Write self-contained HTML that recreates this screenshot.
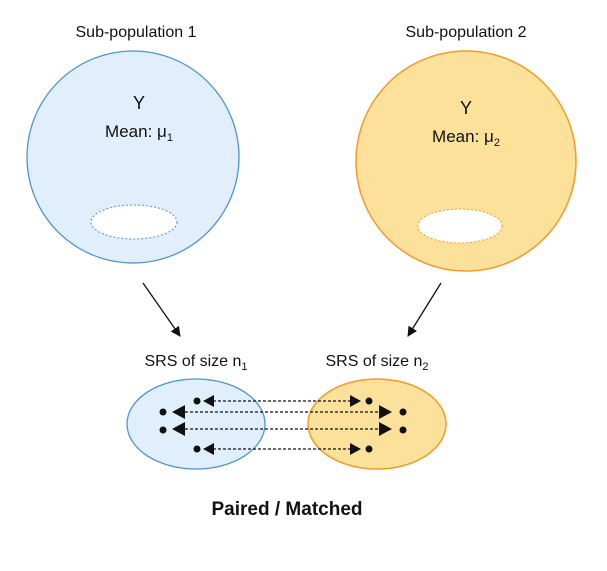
<!DOCTYPE html>
<html><head><meta charset="utf-8"><style>
body{margin:0;background:#fff;width:607px;height:566px;overflow:hidden}
text{font-family:"Liberation Sans","DejaVu Sans",sans-serif;fill:#111}
</style></head><body>
<svg width="607" height="566" viewBox="0 0 607 566">
<defs>
<marker id="ah" markerWidth="10" markerHeight="10" refX="9" refY="5" orient="auto" markerUnits="userSpaceOnUse"><path d="M0,0 L10,5 L0,10 z" fill="#111"/></marker>
</defs>
<text x="136" y="37" font-size="16" text-anchor="middle">Sub-population 1</text>
<text x="466" y="37" font-size="16" text-anchor="middle">Sub-population 2</text>
<circle cx="133" cy="157" r="106" fill="#e1eefb" stroke="#4d94cf" stroke-width="1.3"/>
<circle cx="466" cy="161" r="110" fill="#fbe199" stroke="#f39a2a" stroke-width="1.5"/>
<text x="139" y="109" font-size="18" text-anchor="middle">Y</text>
<text x="139" y="137" font-size="17" text-anchor="middle">Mean: μ<tspan font-size="11" dy="4">1</tspan></text>
<text x="466" y="114" font-size="18" text-anchor="middle">Y</text>
<text x="466" y="142" font-size="17" text-anchor="middle">Mean: μ<tspan font-size="11" dy="4">2</tspan></text>
<ellipse cx="134" cy="222" rx="43" ry="17" fill="#fff" stroke="#4d94cf" stroke-width="1" stroke-dasharray="2,2"/>
<ellipse cx="460" cy="226" rx="42" ry="17" fill="#fff" stroke="#f39a2a" stroke-width="1" stroke-dasharray="2,2"/>
<line x1="143" y1="283" x2="180" y2="336" stroke="#111" stroke-width="1.3" marker-end="url(#ah)"/>
<line x1="441" y1="283" x2="408" y2="336" stroke="#111" stroke-width="1.3" marker-end="url(#ah)"/>
<text x="196" y="366" font-size="16" text-anchor="middle">SRS of size n<tspan font-size="11" dy="4">1</tspan></text>
<text x="377" y="366" font-size="16" text-anchor="middle">SRS of size n<tspan font-size="11" dy="4">2</tspan></text>
<ellipse cx="196" cy="424" rx="69" ry="45" fill="#e1eefb" stroke="#4d94cf" stroke-width="1.3"/>
<ellipse cx="377" cy="424" rx="69" ry="45" fill="#fbe199" stroke="#f39a2a" stroke-width="1.5"/>
<g fill="#111" stroke="#111">
<line x1="213" y1="401" x2="350" y2="401" stroke-dasharray="3,2" stroke-width="1.2"/>
<line x1="185" y1="412" x2="380" y2="412" stroke-dasharray="3,2" stroke-width="1.2"/>
<line x1="185" y1="429" x2="380" y2="429" stroke-dasharray="3,2" stroke-width="1.2"/>
<line x1="213" y1="449" x2="350" y2="449" stroke-dasharray="3,2" stroke-width="1.2"/>
<path d="M203,401 l11,-6 v12z M172,412 l13,-7 v14z M172,429 l13,-7 v14z M203,449 l11,-6 v12z" stroke="none"/>
<path d="M361,401 l-11,-6 v12z M392,412 l-13,-7 v14z M392,429 l-13,-7 v14z M361,449 l-11,-6 v12z" stroke="none"/>
<circle cx="197" cy="401" r="3.5" stroke="none"/><circle cx="163" cy="412" r="3.5" stroke="none"/><circle cx="163" cy="430" r="3.5" stroke="none"/><circle cx="197" cy="449" r="3.5" stroke="none"/>
<circle cx="369" cy="401" r="3.5" stroke="none"/><circle cx="403" cy="412" r="3.5" stroke="none"/><circle cx="403" cy="430" r="3.5" stroke="none"/><circle cx="369" cy="449" r="3.5" stroke="none"/>
</g>
<text x="287" y="515" font-size="19" font-weight="bold" text-anchor="middle">Paired / Matched</text>
</svg>
</body></html>
